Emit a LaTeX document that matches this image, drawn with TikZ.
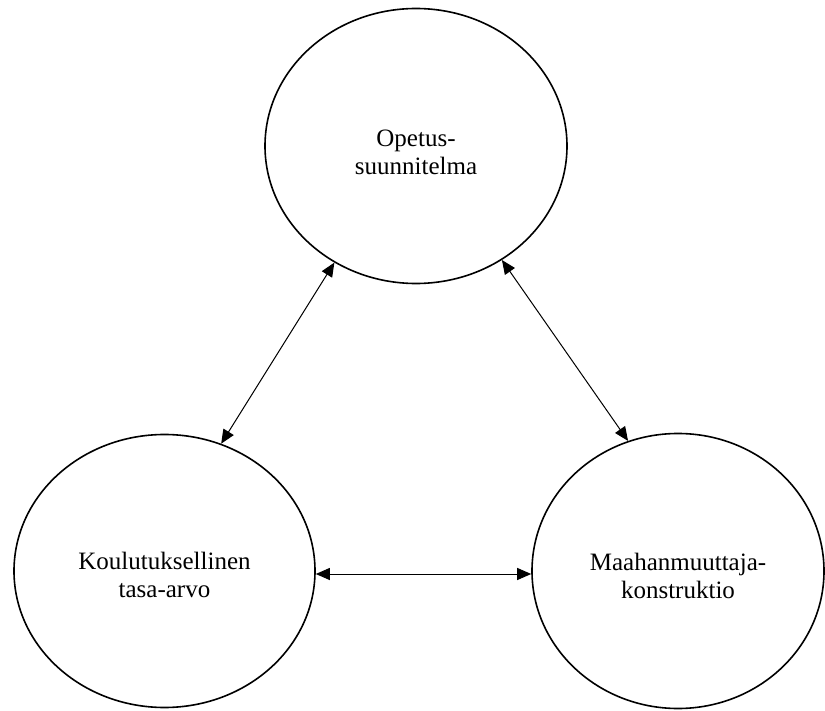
\documentclass[tikz,border=0pt]{standalone}
\usepackage{fontspec}
\setmainfont{Liberation Serif}
\usetikzlibrary{shapes.geometric,arrows.meta}
\begin{document}
\begin{tikzpicture}[x=1pt,y=-1pt,
  bubble/.style={draw,ellipse,line width=1.6pt,inner sep=0pt},
  lbl/.style={align=center,font=\fontsize{25}{28}\selectfont,inner sep=0pt},
  link/.style={line width=1pt,{Triangle[length=14pt,width=12pt]}-{Triangle[length=14pt,width=12pt]}}]
\useasboundingbox (0,0) rectangle (825,711);
\node[bubble,minimum width=302pt,minimum height=275pt] (top) at (416,146) {};
\node[bubble,minimum width=301pt,minimum height=273pt] (left) at (164.5,571) {};
\node[bubble,minimum width=292pt,minimum height=275pt] (right) at (678,571) {};
\node[lbl] (ttop) at (416,152) {Opetus-\\suunnitelma};
\node[lbl] (tleft) at (164.5,575) {Koulutuksellinen\\tasa-arvo};
\node[lbl] (tright) at (678,576) {Maahanmuuttaja-\\konstruktio};
\draw[link] (left.66.6) -- (top.235.3);
\draw[link] (top.-53.4) -- (right.111.3);
\draw[link] ([yshift=-3pt]left.east) -- ([yshift=-3pt]right.west);
\end{tikzpicture}
\end{document}
